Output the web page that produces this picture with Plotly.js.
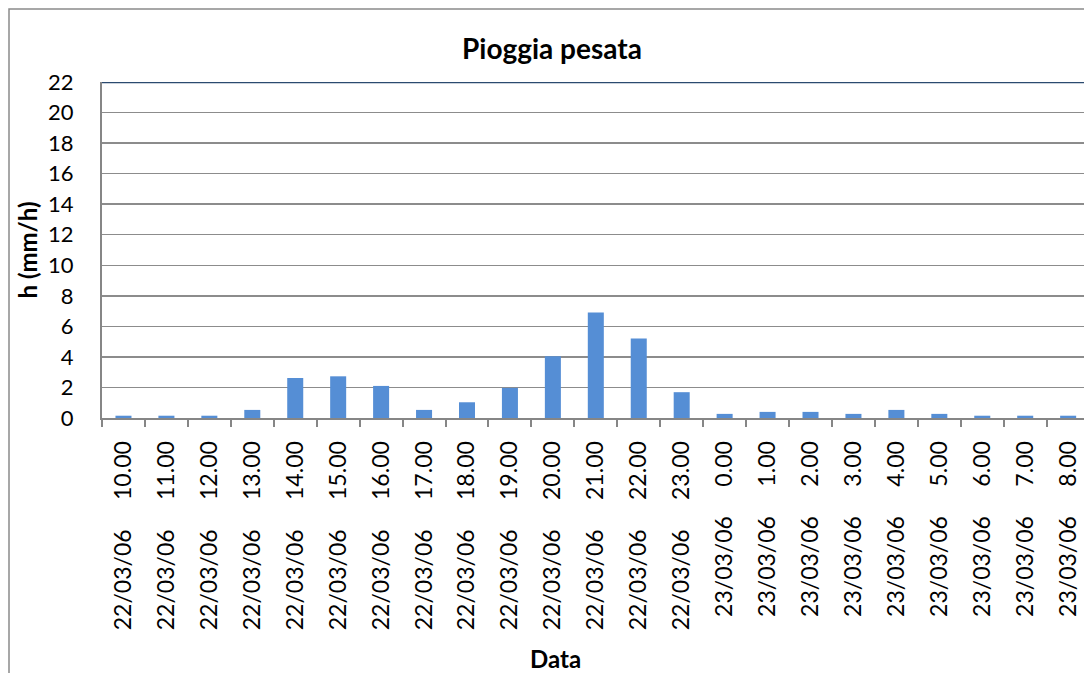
<!DOCTYPE html>
<html>
<head>
<meta charset="utf-8">
<script src="https://cdn.plot.ly/plotly-3.0.1.min.js"></script>
<style>html,body{margin:0;padding:0;background:#fff;}#chart{width:1084px;height:673px;}</style>
</head>
<body>
<div id="chart"></div>
<script>
const dates = ["22/03/06","22/03/06","22/03/06","22/03/06","22/03/06","22/03/06","22/03/06","22/03/06","22/03/06","22/03/06","22/03/06","22/03/06","22/03/06","22/03/06","23/03/06","23/03/06","23/03/06","23/03/06","23/03/06","23/03/06","23/03/06","23/03/06","23/03/06"];
const times = ["10.00","11.00","12.00","13.00","14.00","15.00","16.00","17.00","18.00","19.00","20.00","21.00","22.00","23.00","0.00","1.00","2.00","3.00","4.00","5.00","6.00","7.00","8.00"];
const rain = [0.15,0.15,0.15,0.53,2.62,2.73,2.1,0.53,1.03,1.97,4.04,6.9,5.2,1.69,0.27,0.4,0.4,0.27,0.53,0.27,0.15,0.15,0.15];
const yTicks = [0,2,4,6,8,10,12,14,16,18,20,22];

const gap = "\u00A0\u00A0\u00A0\u00A0\u00A0";
const labels = dates.map((d,i) => d + gap + times[i]);

const FONT = "Lato, 'Open Sans', sans-serif";

const trace = {
  type: "bar",
  x: labels,
  y: rain,
  marker: {color: "#558ED5", line: {width: 0}},
  hoverinfo: "x+y"
};

const W = 1084, H = 673, L = 102, T = 82, B = 255;
const pw = W - L, ph = H - T - B;
const px = v => (v - L) / pw;
const py = v => (H - B - v) / ph;

const layout = {
  width: W, height: H,
  margin: {l: L, r: 0, t: T, b: B, pad: 0},
  paper_bgcolor: "#ffffff",
  plot_bgcolor: "#ffffff",
  font: {family: FONT, color: "#000000", size: 22},
  showlegend: false,
  bargap: 0.627,
  title: {
    text: "<b>Pioggia pesata</b>",
    font: {family: FONT, size: 28, color: "#000000"},
    xref: "container", x: 552 / W, xanchor: "center",
    yref: "container", y: 1 - 49 / H, yanchor: "middle"
  },
  xaxis: {
    type: "category",
    range: [-0.5, -0.5 + pw / 42.94],
    tickangle: -90,
    tickson: "boundaries",
    ticks: "outside",
    ticklen: 7,
    tickwidth: 2,
    tickcolor: "#868686",
    ticklabelstandoff: 12,
    showline: true,
    linecolor: "#868686",
    linewidth: 2,
    showgrid: false,
    zeroline: false,
    automargin: false,
    tickfont: {family: FONT, size: 23, color: "#000000"}
  },
  yaxis: {
    range: [0, 22],
    tickvals: yTicks,
    ticktext: yTicks.map(String),
    ticks: "",
    ticklabelstandoff: 22,
    showline: true,
    linecolor: "#868686",
    linewidth: 2,
    showgrid: true,
    gridcolor: "#8c8c8c",
    gridwidth: 1.5,
    zeroline: false,
    automargin: false,
    tickfont: {family: FONT, size: 22, color: "#000000"},
    title: {
      text: "<b>h (mm/h)</b>",
      font: {family: FONT, size: 24, color: "#000000"},
      standoff: 4
    }
  },
  annotations: [
    {text: "<b>Data</b>", xref: "paper", yref: "paper",
     x: px(555), y: py(658), xanchor: "center", yanchor: "middle",
     showarrow: false, font: {family: FONT, size: 24, color: "#000000"}}
  ],
  shapes: [
    {type: "line", xref: "paper", yref: "y", x0: 0, x1: 1, y0: 22, y1: 22,
     line: {color: "#2B4A6F", width: 2.5}},
    {type: "rect", xref: "paper", yref: "paper",
     x0: px(9), x1: px(W + 20), y0: py(H + 20), y1: py(9),
     line: {color: "#8a8a8a", width: 1.5}, fillcolor: "rgba(0,0,0,0)", layer: "below"}
  ]
};

Plotly.newPlot("chart", [trace], layout, {displayModeBar: false, staticPlot: true});
</script>
</body>
</html>
